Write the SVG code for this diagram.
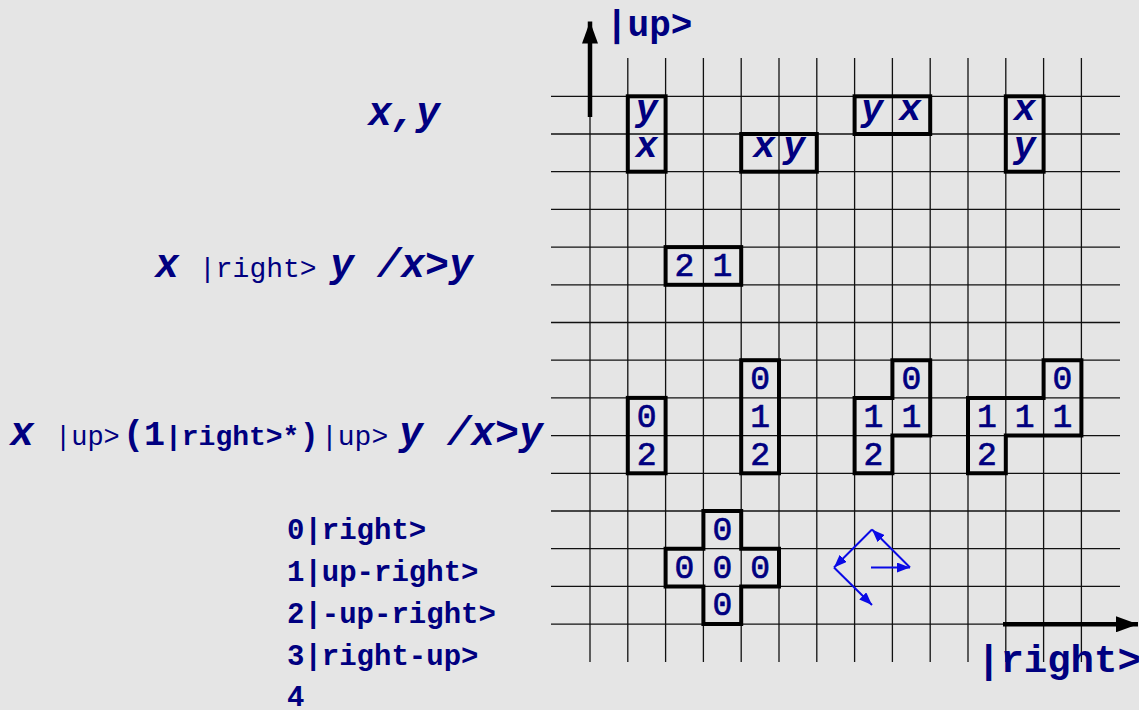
<svg xmlns="http://www.w3.org/2000/svg" width="1139" height="710" viewBox="0 0 1139 710">
<style>
.gl{stroke:#111;stroke-width:1.3}
.box{fill:none;stroke:#000;stroke-width:4;stroke-linejoin:miter}
.t{font-family:'Liberation Mono','Courier New',monospace;fill:#000080;font-weight:bold}
.v{font-style:italic;font-size:37px;text-anchor:middle}
.d{font-size:33px;text-anchor:middle;font-weight:normal;stroke:#000080;stroke-width:0.7}
.vi{font-style:italic;font-size:40px}
.s{font-size:28px}
.n{font-weight:normal}
.blue{stroke:#0a0ae6;stroke-width:2;fill:none}
.axis{stroke:#000;stroke-width:4.5;fill:none}
</style>
<defs>
<marker id="bh" markerUnits="userSpaceOnUse" markerWidth="13" markerHeight="10" refX="13" refY="5" orient="auto"><path d="M0,0 L13,5 L0,10 z" fill="#0a0ae6"/></marker>
<marker id="ah" markerUnits="userSpaceOnUse" markerWidth="22" markerHeight="16" refX="22" refY="8" orient="auto"><path d="M0,0 L22,8 L0,16 z" fill="#000"/></marker>
</defs>
<rect width="1139" height="710" fill="#e5e5e5"/>
<g id="grid">
<g class="gl">
<line x1="590" y1="58" x2="590" y2="662"/>
<line x1="627.8" y1="58" x2="627.8" y2="662"/>
<line x1="665.6" y1="58" x2="665.6" y2="662"/>
<line x1="703.4" y1="58" x2="703.4" y2="662"/>
<line x1="741.2" y1="58" x2="741.2" y2="662"/>
<line x1="779" y1="58" x2="779" y2="662"/>
<line x1="816.8" y1="58" x2="816.8" y2="662"/>
<line x1="854.6" y1="58" x2="854.6" y2="662"/>
<line x1="892.4" y1="58" x2="892.4" y2="662"/>
<line x1="930.2" y1="58" x2="930.2" y2="662"/>
<line x1="968" y1="58" x2="968" y2="662"/>
<line x1="1005.8" y1="58" x2="1005.8" y2="662"/>
<line x1="1043.6" y1="58" x2="1043.6" y2="662"/>
<line x1="1081.4" y1="58" x2="1081.4" y2="662"/>
<line x1="551" y1="96.3" x2="1120" y2="96.3"/>
<line x1="551" y1="134" x2="1120" y2="134"/>
<line x1="551" y1="171.7" x2="1120" y2="171.7"/>
<line x1="551" y1="209.4" x2="1120" y2="209.4"/>
<line x1="551" y1="247.1" x2="1120" y2="247.1"/>
<line x1="551" y1="284.8" x2="1120" y2="284.8"/>
<line x1="551" y1="322.5" x2="1120" y2="322.5"/>
<line x1="551" y1="360.2" x2="1120" y2="360.2"/>
<line x1="551" y1="397.9" x2="1120" y2="397.9"/>
<line x1="551" y1="435.6" x2="1120" y2="435.6"/>
<line x1="551" y1="473.3" x2="1120" y2="473.3"/>
<line x1="551" y1="511" x2="1120" y2="511"/>
<line x1="551" y1="548.7" x2="1120" y2="548.7"/>
<line x1="551" y1="586.4" x2="1120" y2="586.4"/>
<line x1="551" y1="624.1" x2="1120" y2="624.1"/>
</g>
</g>
<g id="labels" class="t">
<text id="lbl-xy" class="vi" x="368" y="125">x,y</text>
<text id="lbl-row2" y="277"><tspan class="vi" x="155">x</tspan><tspan class="s n" x="199">|right&gt;</tspan><tspan class="vi" x="330">y</tspan><tspan class="vi" x="377">/x&gt;y</tspan></text>
<text id="lbl-row3" y="445"><tspan class="vi" x="10">x</tspan><tspan class="n" font-size="27" x="55">|up&gt;</tspan><tspan font-size="35" x="123">(1</tspan><tspan class="s" x="165">|right&gt;*</tspan><tspan font-size="31" x="300">)</tspan><tspan class="s n" x="321">|up&gt;</tspan><tspan class="vi" x="399">y</tspan><tspan class="vi" x="447">/x&gt;y</tspan></text>
<g id="legend" font-size="29">
<text x="287" y="539">0|right&gt;</text>
<text x="287" y="581">1|up-right&gt;</text>
<text x="287" y="623">2|-up-right&gt;</text>
<text x="287" y="665">3|right-up&gt;</text>
<text x="287" y="706">4</text>
</g>
<text id="axis-up" x="606" y="36" font-size="36">|up&gt;</text>
<text id="axis-right" x="977" y="672" font-size="39">|right&gt;</text>
</g>
<g id="box-yx-vertical">
<rect class="box" x="627.8" y="96.3" width="37.8" height="75.4"/>
<text class="t v" x="646.7" y="120">y</text>
<text class="t v" x="646.7" y="157">x</text>
</g>
<g id="box-xy-horizontal">
<rect class="box" x="741.2" y="134" width="75.6" height="37.7"/>
<text class="t v" x="764" y="157">x</text>
<text class="t v" x="794" y="157">y</text>
</g>
<g id="box-yx-horizontal">
<rect class="box" x="854.6" y="96.3" width="75.6" height="37.7"/>
<text class="t v" x="872" y="120">y</text>
<text class="t v" x="910" y="120">x</text>
</g>
<g id="box-xy-vertical">
<rect class="box" x="1005.8" y="96.3" width="37.8" height="75.4"/>
<text class="t v" x="1024.7" y="120">x</text>
<text class="t v" x="1024.7" y="157">y</text>
</g>
<g id="box-21">
<rect class="box" x="665.6" y="247.1" width="75.6" height="37.7"/>
<text class="t d" x="684.5" y="276">2</text>
<text class="t d" x="722.3" y="276">1</text>
</g>
<g id="box-02">
<rect class="box" x="627.8" y="397.9" width="37.8" height="75.4"/>
<text class="t d" x="646.7" y="426.8">0</text>
<text class="t d" x="646.7" y="464.5">2</text>
</g>
<g id="box-012">
<rect class="box" x="741.2" y="360.2" width="37.8" height="113.1"/>
<text class="t d" x="760.1" y="389">0</text>
<text class="t d" x="760.1" y="426.8">1</text>
<text class="t d" x="760.1" y="464.5">2</text>
</g>
<g id="shape-0112">
<polygon class="box" points="892.4,360.2 930.2,360.2 930.2,435.6 892.4,435.6 892.4,473.3 854.6,473.3 854.6,397.9 892.4,397.9"/>
<text class="t d" x="911.3" y="389">0</text>
<text class="t d" x="873.5" y="426.8">1</text>
<text class="t d" x="911.3" y="426.8">1</text>
<text class="t d" x="873.5" y="464.5">2</text>
</g>
<g id="shape-01112">
<polygon class="box" points="1043.6,360.2 1081.4,360.2 1081.4,435.6 1005.8,435.6 1005.8,473.3 968,473.3 968,397.9 1043.6,397.9"/>
<text class="t d" x="1062.5" y="389">0</text>
<text class="t d" x="986.9" y="426.8">1</text>
<text class="t d" x="1024.7" y="426.8">1</text>
<text class="t d" x="1062.5" y="426.8">1</text>
<text class="t d" x="986.9" y="464.5">2</text>
</g>
<g id="cross-0">
<polygon class="box" points="703.4,511 741.2,511 741.2,548.7 779,548.7 779,586.4 741.2,586.4 741.2,624.1 703.4,624.1 703.4,586.4 665.6,586.4 665.6,548.7 703.4,548.7"/>
<text class="t d" x="722.3" y="540">0</text>
<text class="t d" x="684.5" y="577.6">0</text>
<text class="t d" x="722.3" y="577.6">0</text>
<text class="t d" x="760.1" y="577.6">0</text>
<text class="t d" x="722.3" y="615.3">0</text>
</g>
<g id="connectors">
<line class="axis" x1="590" y1="117" x2="590" y2="21.5" marker-end="url(#ah)"/>
<line class="axis" x1="1003" y1="624.3" x2="1138" y2="624.3" marker-end="url(#ah)"/>
<line class="blue" x1="871" y1="567.5" x2="910" y2="567.5" marker-end="url(#bh)"/>
<line class="blue" x1="910" y1="567.5" x2="872" y2="529.5" marker-end="url(#bh)"/>
<line class="blue" x1="872" y1="529.5" x2="834" y2="567.5" marker-end="url(#bh)"/>
<line class="blue" x1="834" y1="567.5" x2="872" y2="605" marker-end="url(#bh)"/>
</g>
</svg>
